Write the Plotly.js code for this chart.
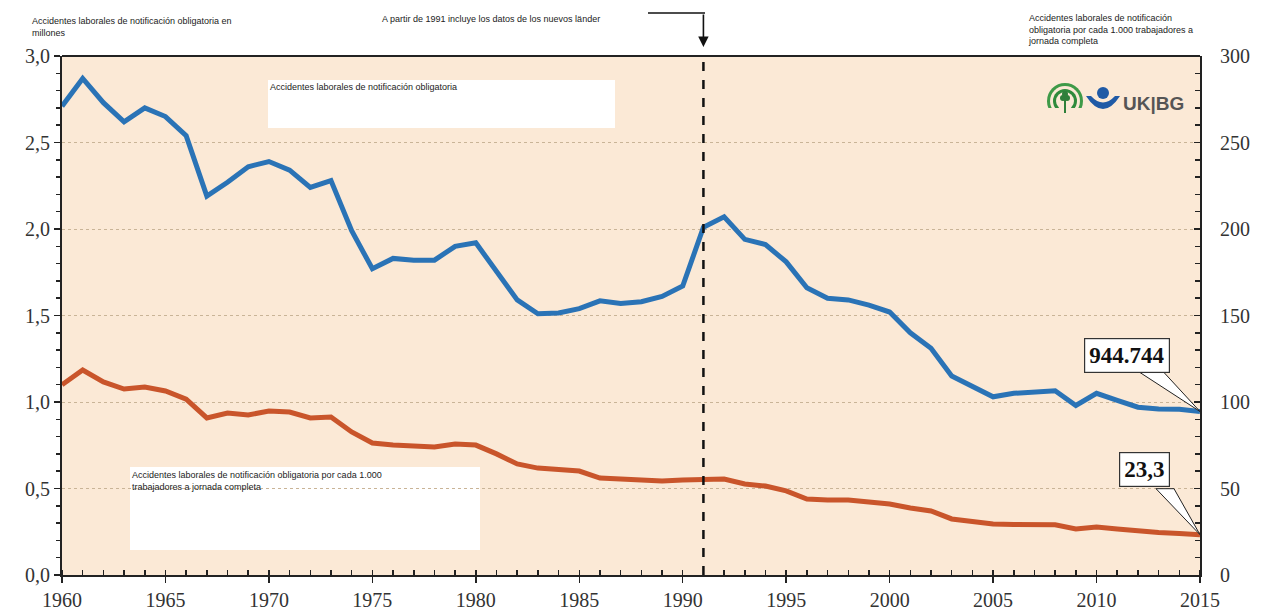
<!DOCTYPE html>
<html>
<head>
<meta charset="utf-8">
<script src="https://cdn.plot.ly/plotly-3.0.1.min.js"></script>
<style>html,body{margin:0;padding:0;background:#fff;}#chart{width:1263px;height:611px;}</style>
</head>
<body>
<div id="chart"></div>
<script>
const years = [1960,1961,1962,1963,1964,1965,1966,1967,1968,1969,1970,1971,1972,1973,1974,1975,1976,1977,1978,1979,1980,1981,1982,1983,1984,1985,1986,1987,1988,1989,1990,1991,1992,1993,1994,1995,1996,1997,1998,1999,2000,2001,2002,2003,2004,2005,2006,2007,2008,2009,2010,2011,2012,2013,2014,2015];
// Accidentes laborales de notificación obligatoria (millones)
const accidentesMillones = [2.71,2.87,2.73,2.62,2.70,2.65,2.54,2.19,2.27,2.36,2.39,2.34,2.24,2.28,1.99,1.77,1.83,1.82,1.82,1.90,1.92,1.75,1.59,1.51,1.515,1.54,1.585,1.57,1.58,1.61,1.67,2.01,2.07,1.94,1.91,1.81,1.66,1.60,1.59,1.56,1.52,1.40,1.31,1.15,1.09,1.03,1.05,1.056,1.065,0.98,1.05,1.01,0.97,0.96,0.958,0.945];
// Accidentes por cada 1.000 trabajadores a jornada completa
const accidentesPor1000 = [110,118.5,111.6,107.5,108.7,106.4,101.7,90.8,93.6,92.5,94.8,94.2,90.8,91.3,82.7,76.3,75.1,74.6,74.0,75.7,75.1,70,64.2,61.8,60.7,60.1,56,55.5,54.9,54.3,54.9,55,55.5,52.6,51.4,48.6,43.9,43.4,43.4,42.2,41,38.7,37,32.4,30.6,29.5,29.2,29,29,26.6,27.7,26.6,25.4,24.6,24,23.3];
const labelTotal = '944.744';
const labelRate = '23,3';
const yLeftTicks = [0,0.5,1,1.5,2,2.5,3];
const yRightTicks = [0,50,100,150,200,250,300];
const xTicks = [1960,1965,1970,1975,1980,1985,1990,1995,2000,2005,2010,2015];

const W = 1263, H = 611;
const M = {l:62, r:63, t:56, b:36};
const PW = W - M.l - M.r, PH = H - M.t - M.b;
const xr = [1960, 2015], y1r = [0, 3], y2r = [0, 300];
const pxX = (xr[1]-xr[0]) / PW;
const pxY1 = (y1r[1]-y1r[0]) / PH;
const pxY2 = (y2r[1]-y2r[0]) / PH;
const px2paperX = p => (p - M.l) / PW;
const px2paperY = p => (H - M.b - p) / PH;

const serif = 'Liberation Serif, Times New Roman, serif';
const sans = 'Liberation Sans, Arial, sans-serif';
const tickFont = {family: serif, size: 20, color: '#333'};
const peach = '#FBE9D6';

const lastX = years[years.length-1];
const lastB = accidentesMillones[accidentesMillones.length-1];
const lastO = accidentesPor1000[accidentesPor1000.length-1];

const traces = [
  {x: years, y: accidentesMillones, type: 'scatter', mode: 'lines', xaxis: 'x', yaxis: 'y',
   line: {color: '#2A73B6', width: 5}, hoverinfo: 'skip', showlegend: false},
  {x: years, y: accidentesPor1000, type: 'scatter', mode: 'lines', xaxis: 'x', yaxis: 'y2',
   line: {color: '#C9552B', width: 5}, hoverinfo: 'skip', showlegend: false}
];

function wedge(xref, yref, tipX, tipY, pxPerY, dxa, dxb, dy) {
  const ax = tipX + dxa*pxX, bx = tipX + dxb*pxX, yy = tipY + dy*pxPerY;
  return {type: 'path', xref: xref, yref: yref, layer: 'above',
    path: `M ${ax} ${yy} L ${tipX} ${tipY} L ${bx} ${yy} Z`,
    fillcolor: 'white', line: {color: '#222', width: 1}};
}
const P = (x0, y0, x1, y1) => ({x0: px2paperX(x0), x1: px2paperX(x1), y0: px2paperY(y1), y1: px2paperY(y0)});

const shapes = [
  {type: 'line', xref: 'paper', yref: 'paper', x0: 0, x1: 1, y0: 1, y1: 1, line: {color: '#222', width: 2}},
  Object.assign({type: 'rect', xref: 'paper', yref: 'paper', fillcolor: 'white', line: {width: 0}, layer: 'above'}, P(268, 80, 615, 128)),
  Object.assign({type: 'rect', xref: 'paper', yref: 'paper', fillcolor: 'white', line: {width: 0}, layer: 'below'}, P(130, 467, 480, 550)),
  {type: 'line', xref: 'x', yref: 'paper', x0: 1991, x1: 1991, y0: 0, y1: 1, line: {color: '#111', width: 2.5, dash: 'dash'}},
  {type: 'line', xref: 'paper', yref: 'paper', x0: px2paperX(648), x1: px2paperX(705), y0: px2paperY(13), y1: px2paperY(13), line: {color: '#111', width: 1.5}},
  wedge('x', 'y', lastX, lastB, pxY1, -60, -36, 39),
  wedge('x', 'y2', lastX, lastO, pxY2, -44, -26, 46),
  // logo: green emblem (concentric arcs with tree)
  Object.assign({type: 'circle', xref: 'paper', yref: 'paper', fillcolor: '#3E9A48', line: {width: 0}}, P(1047, 83, 1083, 119)),
  Object.assign({type: 'circle', xref: 'paper', yref: 'paper', fillcolor: peach, line: {width: 0}}, P(1050, 86, 1080, 116)),
  Object.assign({type: 'circle', xref: 'paper', yref: 'paper', fillcolor: '#2F8A3C', line: {width: 0}}, P(1053, 89, 1077, 113)),
  Object.assign({type: 'circle', xref: 'paper', yref: 'paper', fillcolor: peach, line: {width: 0}}, P(1056, 92, 1074, 110)),
  Object.assign({type: 'rect', xref: 'paper', yref: 'paper', fillcolor: peach, line: {width: 0}}, P(1046, 108, 1084, 122)),
  Object.assign({type: 'circle', xref: 'paper', yref: 'paper', fillcolor: '#2F7F3A', line: {width: 0}}, P(1060, 95, 1066, 101)),
  Object.assign({type: 'circle', xref: 'paper', yref: 'paper', fillcolor: '#2F7F3A', line: {width: 0}}, P(1064, 95, 1070, 101)),
  Object.assign({type: 'circle', xref: 'paper', yref: 'paper', fillcolor: '#2F7F3A', line: {width: 0}}, P(1062, 91, 1068, 97)),
  {type: 'line', xref: 'paper', yref: 'paper', x0: px2paperX(1065), x1: px2paperX(1065), y0: px2paperY(113), y1: px2paperY(99), line: {color: '#2F7F3A', width: 2}},
  // logo: blue figure
  Object.assign({type: 'circle', xref: 'paper', yref: 'paper', fillcolor: '#1F5AA6', line: {width: 0}}, P(1097, 87, 1109, 99)),
  {type: 'path', xref: 'paper', yref: 'paper',
   path: `M ${px2paperX(1086)} ${px2paperY(96)} Q ${px2paperX(1103)} ${px2paperY(122)} ${px2paperX(1120)} ${px2paperY(96)} L ${px2paperX(1115)} ${px2paperY(96)} Q ${px2paperX(1103)} ${px2paperY(109)} ${px2paperX(1091)} ${px2paperY(96)} Z`,
   fillcolor: '#1F5AA6', line: {width: 0}}
];

const annotations = [
  {xref: 'paper', yref: 'paper', x: px2paperX(30), y: px2paperY(14), xanchor: 'left', yanchor: 'top', align: 'left', showarrow: false,
   text: 'Accidentes laborales de notificación obligatoria en<br>millones', font: {family: sans, size: 9, color: '#222'}},
  {xref: 'paper', yref: 'paper', x: px2paperX(380), y: px2paperY(12), xanchor: 'left', yanchor: 'top', align: 'left', showarrow: false,
   text: 'A partir de 1991 incluye los datos de los nuevos länder', font: {family: sans, size: 9, color: '#222'}},
  {xref: 'paper', yref: 'paper', x: px2paperX(1026), y: px2paperY(11), xanchor: 'left', yanchor: 'top', align: 'left', showarrow: false,
   text: 'Accidentes laborales de notificación<br>obligatoria por cada 1.000 trabajadores a<br>jornada completa', font: {family: sans, size: 9, color: '#222'}},
  {xref: 'paper', yref: 'paper', x: px2paperX(268), y: px2paperY(80), xanchor: 'left', yanchor: 'top', align: 'left', showarrow: false,
   text: 'Accidentes laborales de notificación obligatoria', font: {family: sans, size: 9, color: '#222'}},
  {xref: 'paper', yref: 'paper', x: px2paperX(130), y: px2paperY(468), xanchor: 'left', yanchor: 'top', align: 'left', showarrow: false,
   text: 'Accidentes laborales de notificación obligatoria por cada 1.000<br>trabajadores a jornada completa', font: {family: sans, size: 9, color: '#222'}},
  {xref: 'x', yref: 'paper', x: 1991, y: px2paperY(47), ax: 0, ay: -34, showarrow: true, arrowhead: 2, arrowsize: 1.3, arrowwidth: 1.6, arrowcolor: '#111', text: ''},
  {xref: 'paper', yref: 'paper', x: px2paperX(1121), y: px2paperY(103), xanchor: 'left', yanchor: 'middle', showarrow: false,
   text: '<b>UK|BG</b>', font: {family: sans, size: 19, color: '#555'}},
  {xref: 'x', yref: 'y', x: lastX, y: lastB, xshift: -73, yshift: 56, showarrow: false,
   text: '<b>' + labelTotal + '</b>', font: {family: serif, size: 23, color: '#111'},
   bgcolor: 'white', bordercolor: '#333', borderwidth: 1.2, borderpad: 4},
  {xref: 'x', yref: 'y2', x: lastX, y: lastO, xshift: -56, yshift: 65, showarrow: false,
   text: '<b>' + labelRate + '</b>', font: {family: serif, size: 23, color: '#111'},
   bgcolor: 'white', bordercolor: '#333', borderwidth: 1.2, borderpad: 4}
];

const layout = {
  width: W, height: H,
  margin: {l: M.l, r: M.r, t: M.t, b: M.b, pad: 0},
  paper_bgcolor: 'white', plot_bgcolor: peach,
  showlegend: false,
  separators: ',.',
  xaxis: {range: xr, tickmode: 'array', tickvals: xTicks, ticktext: xTicks.map(String),
    ticks: 'outside', ticklen: 6, tickwidth: 1.5, tickcolor: '#222', ticklabelstandoff: 0,
    minor: {dtick: 1, ticks: 'inside', ticklen: 5, tickwidth: 1.5, tickcolor: '#222', showgrid: false},
    showline: true, linecolor: '#222', linewidth: 2, showgrid: false, zeroline: false,
    tickfont: {family: serif, size: 20, color: '#333'}, fixedrange: true},
  xaxis2: {range: xr, overlaying: 'x', anchor: 'y', side: 'bottom', tickmode: 'array', tickvals: xTicks,
    ticks: 'inside', ticklen: 8, tickwidth: 1.5, tickcolor: '#222', showticklabels: false,
    showline: false, showgrid: false, zeroline: false},
  yaxis: {range: y1r, tickmode: 'array', tickvals: yLeftTicks, ticktext: yLeftTicks.map(v => v.toFixed(1).replace('.', ',')),
    ticks: 'outside', ticklen: 6, tickwidth: 1.5, tickcolor: '#222',
    minor: {dtick: 0.1, ticks: 'outside', ticklen: 4, tickwidth: 1.5, tickcolor: '#222', showgrid: false},
    showline: true, linecolor: '#222', linewidth: 2,
    showgrid: true, gridcolor: '#C9B497', griddash: 'dot', gridwidth: 1, zeroline: false,
    tickfont: tickFont, fixedrange: true},
  yaxis2: {range: y2r, overlaying: 'y', side: 'right', tickmode: 'array', tickvals: yRightTicks, ticktext: yRightTicks.map(String),
    ticks: 'inside', ticklen: 6, tickwidth: 1.5, tickcolor: '#222',
    minor: {dtick: 10, ticks: 'inside', ticklen: 5, tickwidth: 1.5, tickcolor: '#222', showgrid: false},
    showline: true, linecolor: '#222', linewidth: 2, showgrid: false, zeroline: false,
    tickfont: tickFont, ticklabelstandoff: 14, fixedrange: true},
  yaxis3: {range: y1r, overlaying: 'y', side: 'left', anchor: 'x', tickmode: 'array', tickvals: yLeftTicks,
    ticks: 'inside', ticklen: 7, tickwidth: 1.5, tickcolor: '#222', showticklabels: false, showgrid: false, zeroline: false, showline: false},
  yaxis4: {range: y2r, overlaying: 'y', side: 'right', anchor: 'x', tickmode: 'array', tickvals: yRightTicks,
    ticks: 'outside', ticklen: 6, tickwidth: 1.5, tickcolor: '#222', showticklabels: false, showgrid: false, zeroline: false, showline: false},
  shapes: shapes,
  annotations: annotations
};

Plotly.newPlot('chart', traces, layout, {displayModeBar: false, staticPlot: true});
</script>
</body>
</html>
